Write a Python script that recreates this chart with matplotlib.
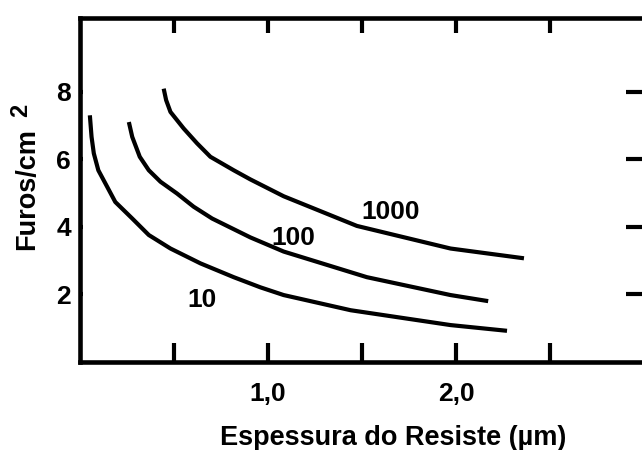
import matplotlib
matplotlib.use("Agg")
from matplotlib import pyplot as plt

plt.rcParams['font.family'] = ['Liberation Sans', 'DejaVu Sans']
plt.rcParams['font.weight'] = 'bold'

# curves (thickness in um vs defects per cm2)
x10 = [0.055, 0.064, 0.076, 0.10, 0.147, 0.19, 0.28, 0.368, 0.483, 0.642, 0.819, 0.96, 1.084, 1.44, 1.97, 2.27]
y10 = [7.30, 6.66, 6.17, 5.67, 5.18, 4.73, 4.24, 3.75, 3.35, 2.91, 2.50, 2.20, 1.97, 1.52, 1.08, 0.91]

x100 = [0.262, 0.28, 0.32, 0.368, 0.43, 0.518, 0.606, 0.704, 0.907, 1.084, 1.526, 1.97, 2.17]
y100 = [7.10, 6.66, 6.07, 5.67, 5.33, 4.98, 4.59, 4.24, 3.68, 3.26, 2.50, 1.97, 1.79]

x1000 = [0.447, 0.46, 0.483, 0.553, 0.624, 0.695, 0.819, 0.907, 1.084, 1.473, 1.97, 2.36]
y1000 = [8.09, 7.75, 7.40, 6.91, 6.47, 6.07, 5.67, 5.40, 4.90, 4.02, 3.35, 3.06]

curve_names = ['10', '100', '1000']
name_x = [0.651, 1.137, 1.65]
name_y = [1.82, 3.65, 4.43]

xticks = [0.5, 1.0, 1.5, 2.0, 2.5]
xticklabels = ['', '1,0', '', '2,0', '']
yticks = [2, 4, 6, 8]

fig = plt.figure(figsize=(6.42, 4.5), dpi=100)
ax = fig.add_axes([79.5/642, 88.5/450, 565/642, 344/450])

for xs, ys in [(x10, y10), (x100, y100), (x1000, y1000)]:
    ax.plot(xs, ys, color='black', lw=3.0, solid_capstyle='butt')

for name, nx, ny in zip(curve_names, name_x, name_y):
    ax.text(nx, ny, name, ha='center', va='center', fontsize=19, fontweight='bold')

ax.set_xlim(0, 3.0)
ax.set_ylim(0, 10.2)
for s in ax.spines.values():
    s.set_linewidth(3.3)

ax.set_xticks(xticks)
ax.set_xticklabels(xticklabels)
ax.set_yticks(yticks)
ax.tick_params(axis='x', direction='in', top=True, width=3, pad=15, labelsize=19)
ax.tick_params(axis='y', direction='in', right=True, width=3, pad=6, labelsize=19)
for t in ax.xaxis.get_major_ticks():
    t.tick1line.set_markersize(13.5)
    t.tick2line.set_markersize(11)
for t in ax.yaxis.get_major_ticks():
    t.tick1line.set_markersize(2.5)
    t.tick2line.set_markersize(14)

ax.set_xlabel('Espessura do Resiste (µm)', fontsize=19.5, fontweight='bold')
ax.xaxis.set_label_coords(0.555, -0.185)
ax.xaxis.label.set_va('top')
ax.set_ylabel('Furos/cm', fontsize=19.5, fontweight='bold')
ax.yaxis.set_label_coords(-0.07, 0.5)
# superscript drawn on its own, it is large and set apart in the original
fig.text(21/642, 1 - 110/450, '2', rotation=90, ha='center', va='center',
         fontsize=17, fontweight='bold')

fig.savefig('out.png', dpi=100)
